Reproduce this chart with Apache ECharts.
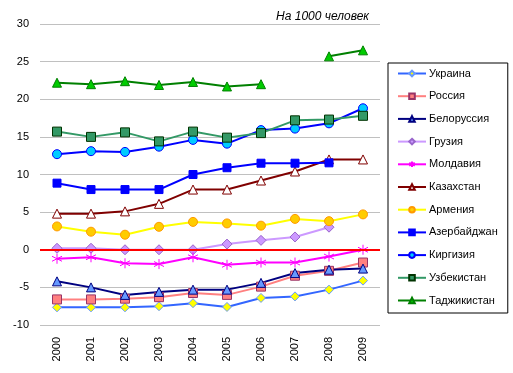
<!DOCTYPE html>
<html><head><meta charset="utf-8">
<script src="https://cdn.jsdelivr.net/npm/echarts@6/dist/echarts.min.js"></script>
<style>html,body{margin:0;padding:0;background:#fff}#c{width:513px;height:373px}</style>
</head><body><div id="c"></div>
<script>
const years = ['2000','2001','2002','2003','2004','2005','2006','2007','2008','2009'];
const names = ['Украина','Россия','Белоруссия','Грузия','Молдавия','Казахстан','Армения','Азербайджан','Киргизия','Узбекистан','Таджикистан'];
const ukraine    = [-7.65,-7.65,-7.65,-7.5,-7.1,-7.6,-6.4,-6.2,-5.3,-4.1];
const russia     = [-6.6,-6.6,-6.5,-6.3,-5.75,-6.0,-4.9,-3.45,-2.8,-1.7];
const belarus    = [-4.2,-5.0,-6.0,-5.6,-5.3,-5.3,-4.4,-3.1,-2.65,-2.5];
const georgia    = [0.2,0.2,0.0,0.0,0.0,0.75,1.25,1.7,3.0,null];
const moldova    = [-1.2,-1.0,-1.8,-1.9,-1.0,-2.0,-1.7,-1.7,-0.9,0.0];
const kazakhstan = [4.8,4.8,5.1,6.1,8.0,8.0,9.2,10.4,12.0,12.0];
const armenia    = [3.1,2.4,2.0,3.05,3.7,3.5,3.2,4.1,3.8,4.7];
const azerbaijan = [8.85,8.0,8.0,8.0,10.0,10.9,11.5,11.5,11.55,null];
const kyrgyzstan = [12.7,13.1,13.0,13.7,14.6,14.1,15.9,16.1,16.8,18.8];
const uzbekistan = [15.7,15.0,15.6,14.4,15.7,14.9,15.5,17.2,17.3,17.8];
const tajikistan = [22.2,22.0,22.4,21.9,22.3,21.7,22.0,null,25.7,26.5];
const yTicks = {min:-10, max:30, step:5};
const unitNote = 'На 1000 человек';

const values = [ukraine,russia,belarus,georgia,moldova,kazakhstan,armenia,azerbaijan,kyrgyzstan,uzbekistan,tajikistan];
const asterisk = 'path://M0,-10L0,10M-8.7,-5L8.7,5M-8.7,5L8.7,-5';
const styles = [
  {line:'#3366FF', sym:'diamond', size:9, fill:'#FFFF00', border:'#6699FF'},
  {line:'#FF8080', sym:'rect', size:9, fill:'#FF8080', border:'#993366'},
  {line:'#000080', sym:'triangle', size:9, fill:'#6699FF', border:'#000080'},
  {line:'#CC99FF', sym:'diamond', size:10, fill:'#CC99FF', border:'#9966CC'},
  {line:'#FF00FF', sym:asterisk, size:10, fill:'#FF00FF', border:'#FF00FF'},
  {line:'#800000', sym:'triangle', size:9, fill:'#FFFFFF', border:'#800000'},
  {line:'#FFFF00', sym:'circle', size:9, fill:'#FFCC00', border:'#FF9900'},
  {line:'#0000FF', sym:'rect', size:8, fill:'#0000FF', border:'#0000FF'},
  {line:'#0000FF', sym:'circle', size:9, fill:'#00CCFF', border:'#0000FF'},
  {line:'#339966', sym:'rect', size:9, fill:'#339966', border:'#003300'},
  {line:'#008000', sym:'triangle', size:9, fill:'#00CC00', border:'#008000'}
];

const series = [{
  type:'line', data:[], silent:true, animation:false,
  markLine:{symbol:'none', silent:true, label:{show:false}, animation:false,
    lineStyle:{color:'#FF0000', width:2, type:'solid'},
    data:[{yAxis:0}]}
}].concat(names.map((n,i)=>({
  name:n, type:'line', data:values[i], connectNulls:false,
  symbol:styles[i].sym, symbolSize:styles[i].size,
  lineStyle:{color:styles[i].line, width:2},
  itemStyle:{color:styles[i].fill, borderColor:styles[i].border, borderWidth:1},
  emphasis:{disabled:true}, animation:false
})));

const chart = echarts.init(document.getElementById('c'), null, {renderer:'canvas'});
chart.setOption({
  backgroundColor:'#fff',
  textStyle:{fontFamily:'Arial, Liberation Sans, sans-serif'},
  title:{text:unitNote, right:139, top:6,
    textStyle:{fontStyle:'italic', fontWeight:'normal', fontSize:12, color:'#000', fontFamily:'Arial, Liberation Sans, sans-serif'}},
  grid:{left:40, right:133, top:24, bottom:48},
  legend:{orient:'vertical', left:388, top:63,
    data:names, itemGap:11.7, itemWidth:28, itemHeight:7,
    padding:[5,10,7,9], borderColor:'#000', borderWidth:1,
    textStyle:{fontSize:11, color:'#000', fontFamily:'Arial, Liberation Sans, sans-serif', padding:[0,0,0,-2]}},
  xAxis:{type:'category', data:years, boundaryGap:true,
    axisLine:{show:false}, axisTick:{show:false},
    axisLabel:{rotate:90, fontSize:11, color:'#000', margin:12},
    splitLine:{show:false}},
  yAxis:{type:'value', min:yTicks.min, max:yTicks.max, interval:yTicks.step,
    axisLine:{show:false}, axisTick:{show:false},
    axisLabel:{fontSize:11, color:'#000', margin:11},
    splitLine:{lineStyle:{color:'#C0C0C0', width:1}}},
  series:series
});
</script></body></html>
